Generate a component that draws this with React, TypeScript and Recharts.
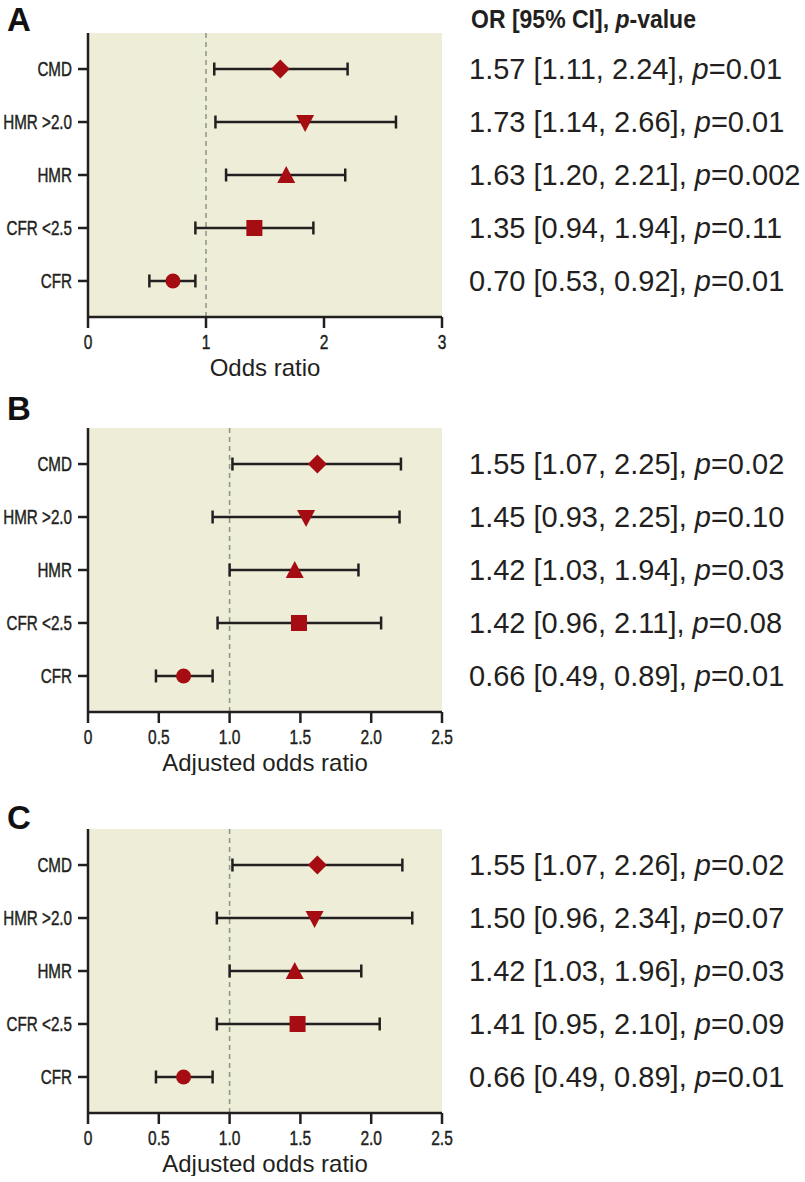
import React from "react";
import {
  CartesianGrid,
  ErrorBar,
  ReferenceLine,
  Scatter,
  ScatterChart,
  XAxis,
  YAxis,
} from "recharts";

const CATEGORIES = ["CMD", "HMR >2.0", "HMR", "CFR <2.5", "CFR"];

// panel A: odds ratio (point, lower, upper as drawn)
const OR_A = [1.63, 1.84, 1.68, 1.41, 0.72];
const LOW_A = [1.07, 1.08, 1.17, 0.91, 0.52];
const HIGH_A = [2.2, 2.61, 2.18, 1.91, 0.91];
const CI_TEXT_A = [
  "1.57 [1.11, 2.24]",
  "1.73 [1.14, 2.66]",
  "1.63 [1.20, 2.21]",
  "1.35 [0.94, 1.94]",
  "0.70 [0.53, 0.92]",
];
const P_A = ["0.01", "0.01", "0.002", "0.11", "0.01"];

// panel B: adjusted odds ratio
const OR_B = [1.62, 1.54, 1.46, 1.49, 0.675];
const LOW_B = [1.02, 0.88, 1.0, 0.915, 0.48];
const HIGH_B = [2.21, 2.2, 1.91, 2.07, 0.88];
const CI_TEXT_B = [
  "1.55 [1.07, 2.25]",
  "1.45 [0.93, 2.25]",
  "1.42 [1.03, 1.94]",
  "1.42 [0.96, 2.11]",
  "0.66 [0.49, 0.89]",
];
const P_B = ["0.02", "0.10", "0.03", "0.08", "0.01"];

// panel C: adjusted odds ratio
const OR_C = [1.62, 1.6, 1.46, 1.48, 0.675];
const LOW_C = [1.02, 0.91, 1.0, 0.91, 0.48];
const HIGH_C = [2.22, 2.29, 1.93, 2.06, 0.88];
const CI_TEXT_C = [
  "1.55 [1.07, 2.26]",
  "1.50 [0.96, 2.34]",
  "1.42 [1.03, 1.96]",
  "1.41 [0.95, 2.10]",
  "0.66 [0.49, 0.89]",
];
const P_C = ["0.02", "0.07", "0.03", "0.09", "0.01"];

const TICKS_A = [0, 1, 2, 3];
const TICKS_BC = [0, 0.5, 1, 1.5, 2, 2.5];

const MARKERS = ["diamond", "down", "up", "square", "circle"];
const RED = "#a50d12";
const INK = "#231f20";
const BG = "#eeeed8";
const SANS = "'Liberation Sans', Arial, sans-serif";

function Marker(props: any) {
  const { cx, cy, payload } = props;
  const kind = MARKERS[payload.idx];
  if (kind === "diamond") {
    return (
      <polygon
        points={`${cx},${cy - 9.5} ${cx + 9.5},${cy} ${cx},${cy + 9.5} ${cx - 9.5},${cy}`}
        fill={RED}
      />
    );
  }
  if (kind === "down") {
    return (
      <polygon
        points={`${cx - 9},${cy - 7} ${cx + 9},${cy - 7} ${cx},${cy + 10}`}
        fill={RED}
      />
    );
  }
  if (kind === "up") {
    return (
      <polygon
        points={`${cx - 9},${cy + 8} ${cx + 9},${cy + 8} ${cx},${cy - 9}`}
        fill={RED}
      />
    );
  }
  if (kind === "square") {
    return <rect x={cx - 8} y={cy - 8} width={16} height={16} fill={RED} />;
  }
  return <circle cx={cx} cy={cy} r={7.5} fill={RED} />;
}

// narrow tick text: the reference uses a condensed face
function CondensedTick(props: any) {
  const { x, y, payload, tickFormatter, anchor, size, squeeze, vertical } = props;
  const label = tickFormatter ? tickFormatter(payload.value) : payload.value;
  return (
    <text
      transform={`translate(${x},${y}) scale(${squeeze},1)`}
      textAnchor={anchor}
      dy={vertical ? "0.36em" : "0.72em"}
      fill={INK}
      stroke={INK}
      strokeWidth={0.45}
      fontSize={size}
      fontFamily={SANS}
    >
      {label}
    </text>
  );
}

function StatTick(props: any) {
  const { x, y, payload, texts, pvals } = props;
  const i = payload.value;
  return (
    <text
      x={x}
      y={y}
      dy="0.36em"
      textAnchor="start"
      fill={INK}
      fontSize={29}
      fontFamily={SANS}
    >
      {texts[i]},{" "}
      <tspan fontStyle="italic">p</tspan>={pvals[i]}
    </text>
  );
}

function ForestPanel({
  or,
  low,
  high,
  texts,
  pvals,
  ticks,
  label,
  fmt,
}: {
  or: number[];
  low: number[];
  high: number[];
  texts: string[];
  pvals: string[];
  ticks: number[];
  label: string;
  fmt: (v: number) => string;
}) {
  const data = CATEGORIES.map((name, i) => ({
    idx: i,
    name,
    or: or[i],
    err: [or[i] - low[i], high[i] - or[i]],
  }));
  const maxX = ticks[ticks.length - 1];
  return (
    <ScatterChart
      width={805}
      height={380}
      margin={{ top: 33, right: 0, bottom: 0, left: 0 }}
    >
      <CartesianGrid horizontal={false} vertical={false} fill={BG} />
      <XAxis
        type="number"
        dataKey="or"
        domain={[0, maxX]}
        ticks={ticks}
        interval={0}
        tickFormatter={fmt}
        height={63}
        tickSize={11}
        tickMargin={6}
        stroke={INK}
        strokeWidth={2.5}
        tick={<CondensedTick anchor="middle" size={21} squeeze={0.74} />}
        label={{
          value: label,
          position: "insideBottom",
          offset: 4,
          fill: INK,
          fontSize: 24,
          fontFamily: SANS,
        }}
      />
      <YAxis
        yAxisId="left"
        type="number"
        dataKey="idx"
        domain={[-0.68, 4.68]}
        reversed
        ticks={[0, 1, 2, 3, 4]}
        interval={0}
        tickFormatter={(v: number) => CATEGORIES[v]}
        width={88}
        tickSize={10}
        tickMargin={6}
        stroke={INK}
        strokeWidth={2.5}
        tick={<CondensedTick anchor="end" size={20} squeeze={0.76} vertical />}
      />
      <YAxis
        yAxisId="right"
        orientation="right"
        type="number"
        dataKey="idx"
        domain={[-0.68, 4.68]}
        reversed
        ticks={[0, 1, 2, 3, 4]}
        interval={0}
        width={363}
        axisLine={false}
        tickLine={false}
        tickSize={0}
        tickMargin={27}
        tick={<StatTick texts={texts} pvals={pvals} />}
      />
      <ReferenceLine
        yAxisId="left"
        x={1}
        stroke="#8e998e"
        strokeWidth={1.6}
        strokeDasharray="5 4"
      />
      {/* invisible series so the right-hand text axis has data */}
      <Scatter
        yAxisId="right"
        data={data}
        shape={() => <g />}
        isAnimationActive={false}
        legendType="none"
      />
      <Scatter
        yAxisId="left"
        data={data}
        shape={Marker}
        isAnimationActive={false}
      >
        <ErrorBar
          dataKey="err"
          direction="x"
          width={6.5}
          stroke={INK}
          strokeWidth={2.5}
        />
      </Scatter>
    </ScatterChart>
  );
}

const panelLetter: React.CSSProperties = {
  position: "absolute",
  left: 7,
  fontFamily: SANS,
  fontWeight: 700,
  fontSize: 33,
  lineHeight: "33px",
  color: "#111",
};

export default function App() {
  return (
    <div
      style={{
        position: "absolute",
        left: 0,
        top: 0,
        width: 805,
        height: 1182,
        background: "#fff",
      }}
    >
      <div style={{ ...panelLetter, top: 3 }}>A</div>
      <div style={{ ...panelLetter, top: 392 }}>B</div>
      <div style={{ ...panelLetter, top: 801 }}>C</div>
      <div
        style={{
          position: "absolute",
          left: 471,
          top: 4,
          fontFamily: SANS,
          fontWeight: 700,
          fontSize: 25,
          lineHeight: "30px",
          color: INK,
          whiteSpace: "nowrap",
          transform: "scaleX(0.92)",
          transformOrigin: "left top",
        }}
      >
        OR [95% CI], <i>p</i>-value
      </div>
      <div style={{ position: "absolute", left: 0, top: 0 }}>
        <ForestPanel
          or={OR_A}
          low={LOW_A}
          high={HIGH_A}
          texts={CI_TEXT_A}
          pvals={P_A}
          ticks={TICKS_A}
          label="Odds ratio"
          fmt={(v) => String(v)}
        />
      </div>
      <div style={{ position: "absolute", left: 0, top: 395 }}>
        <ForestPanel
          or={OR_B}
          low={LOW_B}
          high={HIGH_B}
          texts={CI_TEXT_B}
          pvals={P_B}
          ticks={TICKS_BC}
          label="Adjusted odds ratio"
          fmt={(v) => (v === 0 ? "0" : v.toFixed(1))}
        />
      </div>
      <div style={{ position: "absolute", left: 0, top: 796 }}>
        <ForestPanel
          or={OR_C}
          low={LOW_C}
          high={HIGH_C}
          texts={CI_TEXT_C}
          pvals={P_C}
          ticks={TICKS_BC}
          label="Adjusted odds ratio"
          fmt={(v) => (v === 0 ? "0" : v.toFixed(1))}
        />
      </div>
    </div>
  );
}
